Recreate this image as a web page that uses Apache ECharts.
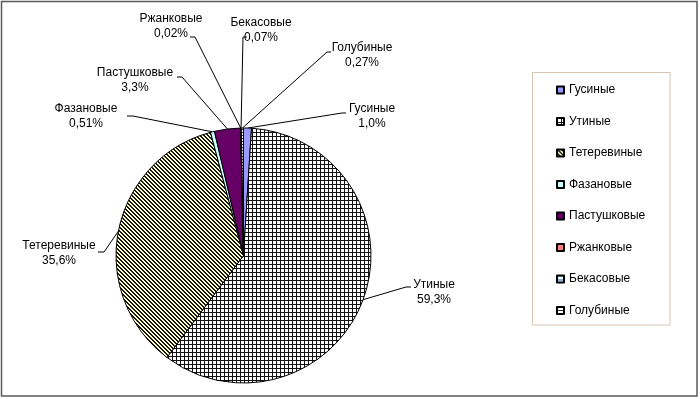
<!DOCTYPE html>
<html><head><meta charset="utf-8">
<script src="https://cdn.jsdelivr.net/npm/echarts@6/dist/echarts.min.js"></script>
<style>html,body{margin:0;padding:0;background:#fff}#c{width:700px;height:399px}</style>
</head><body><div id="c"></div>
<script>
// ---- data ----
const categories = ['Гусиные','Утиные','Тетеревиные','Фазановые','Пастушковые','Ржанковые','Бекасовые','Голубиные'];
const values = [1.0, 59.3, 35.6, 0.51, 3.3, 0.02, 0.07, 0.27];
const valueLabels = ['1,0%','59,3%','35,6%','0,51%','3,3%','0,02%','0,07%','0,27%'];

// ---- layout (styles / positions) ----
const pieCenter = [243.5, 255.5];
const pieRadius = 127.5;
const labelCenters = [[372,116],[434,292],[59,253],[86,116],[135,80],[171,26],[261,30],[362,55]];
const leaderEnds = [
  [[342,113],[346,113]],
  [[406,287],[411,287]],
  [[104,252],[98,252]],
  [[133,116],[127,116]],
  [[182,77],[177,77]],
  [[195,37],[190,37]],
  [[243,37],[247,37]],
  [[327,52],[331,52]]
];

function makePattern(size, bg, fg, fn) {
  const c = document.createElement('canvas');
  c.width = c.height = size;
  const ctx = c.getContext('2d');
  ctx.fillStyle = bg; ctx.fillRect(0, 0, size, size);
  ctx.fillStyle = fg;
  for (let y = 0; y < size; y++) for (let x = 0; x < size; x++) if (fn(x, y)) ctx.fillRect(x, y, 1, 1);
  return { image: c, repeat: 'repeat' };
}
const fills = [
  '#9999ff',
  makePattern(4, '#ffffff', '#111111', (x, y) => x === 0 || y === 0),
  makePattern(4, '#ffffcc', '#1a1a1a', (x, y) => ((x - y + 8) % 4) < 2),
  '#ccffff',
  '#660066',
  '#ff8080',
  makePattern(4, '#ffffff', '#0066cc', (x, y) => y === 0),
  makePattern(3, '#ffffff', '#333333', (x, y) => y === 0)
];

const total = values.reduce((a, b) => a + b, 0);
const midAngles = [];
{ let acc = 0; values.forEach(v => { midAngles.push((acc + v / 2) / total * Math.PI * 2); acc += v; }); }

const chart = echarts.init(document.getElementById('c'), null, { renderer: 'canvas' });
chart.setOption({
  animation: false,
  backgroundColor: '#ffffff',
  graphic: [
    { type: 'rect', shape: { x: 1.5, y: 1.5, width: 695.5, height: 394.5 }, style: { fill: 'none', stroke: '#5a5a5a', lineWidth: 1.5 }, z: 0 },
    { type: 'rect', shape: { x: 532.5, y: 72.5, width: 137.5, height: 252.5 }, style: { fill: 'none', stroke: '#d6c6b2', lineWidth: 1 }, z: 0 }
  ],
  legend: {
    orient: 'vertical',
    left: 556, top: 84,
    padding: 0,
    itemWidth: 7, itemHeight: 7,
    itemGap: 19.5,
    icon: 'rect',
    selectedMode: false,
    textStyle: { fontFamily: 'Liberation Sans, Arial, sans-serif', fontSize: 12, color: '#000' },
    data: categories
  },
  series: [{
    type: 'pie',
    center: pieCenter,
    radius: pieRadius,
    startAngle: 90,
    clockwise: true,
    avoidLabelOverlap: false,
    minShowLabelAngle: 0,
    silent: true,
    emphasis: { disabled: true },
    itemStyle: { borderColor: '#000', borderWidth: 1 },
    label: {
      show: true,
      position: 'outside',
      fontFamily: 'Liberation Sans, Arial, sans-serif',
      fontSize: 12,
      lineHeight: 15,
      color: '#000',
      align: 'center',
      formatter: p => p.name + '\n' + valueLabels[p.dataIndex]
    },
    labelLine: { show: true, length: 10, length2: 10, lineStyle: { color: '#000', width: 1 } },
    labelLayout: function (params) {
      const i = params.dataIndex;
      const a = midAngles[i];
      const start = [pieCenter[0] + pieRadius * Math.sin(a), pieCenter[1] - pieRadius * Math.cos(a)];
      return {
        x: labelCenters[i][0], y: labelCenters[i][1],
        align: 'center', verticalAlign: 'middle',
        labelLinePoints: [start, leaderEnds[i][0], leaderEnds[i][1]]
      };
    },
    data: categories.map((n, i) => ({ name: n, value: values[i], itemStyle: { color: fills[i] } }))
  }]
});
</script></body></html>
